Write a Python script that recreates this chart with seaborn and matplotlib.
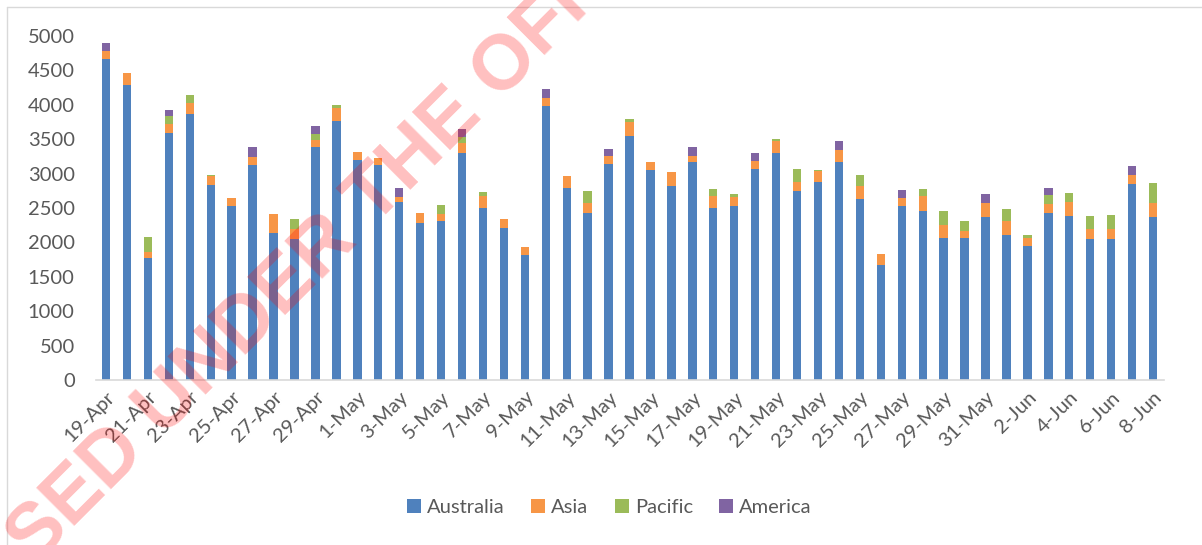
import matplotlib
matplotlib.use('Agg')
import matplotlib.pyplot as plt
from matplotlib.patches import Patch
from matplotlib.lines import Line2D
import pandas as pd
import seaborn as sns

# one label per day, 19-Apr .. 8-Jun
DATES = [d.strftime('%-d-%b') for d in pd.date_range('2020-04-19', '2020-06-08')]

AUSTRALIA = [4670, 4283, 1778, 3585, 3871, 2829, 2534, 3130, 2141, 2054,
             3382, 3760, 3198, 3120, 2582, 2277, 2316, 3304, 2505, 2214,
             1817, 3987, 2795, 2432, 3144, 3551, 3052, 2820, 3173, 2495,
             2529, 3071, 3304, 2742, 2883, 3173, 2635, 1666, 2529, 2461,
             2068, 2068, 2369, 2112, 1952, 2432, 2388, 2054, 2054, 2844, 2369]
ASIA = [117, 180, 87, 141, 155, 140, 106, 111, 267, 141,
        106, 189, 116, 107, 83, 145, 92, 136, 174, 121,
        121, 107, 175, 145, 112, 194, 117, 198, 88, 175,
        126, 112, 174, 141, 160, 170, 189, 160, 121, 213,
        185, 98, 204, 194, 116, 126, 199, 141, 136, 136, 199]
PACIFIC = [0, 0, 213, 106, 116, 10, 0, 0, 0, 140,
           92, 43, 0, 0, 0, 0, 136, 87, 48, 8,
           0, 0, 0, 170, 0, 44, 0, 0, 0, 106,
           53, 0, 25, 179, 8, 0, 156, 8, 0, 107,
           208, 140, 0, 179, 44, 131, 136, 189, 203, 0, 290]
AMERICA = [107, 0, 0, 97, 0, 0, 0, 146, 0, 0,
           112, 0, 0, 0, 130, 0, 0, 121, 0, 0,
           0, 130, 0, 0, 102, 0, 0, 0, 126, 0,
           0, 116, 0, 0, 0, 135, 0, 0, 112, 0,
           0, 0, 130, 0, 0, 102, 0, 0, 0, 130, 0]

REGIONS = ['Australia', 'Asia', 'Pacific', 'America']
COLORS = {
    'Australia': '#4F81BD',
    'Asia': '#F79646',
    'Pacific': '#9BBB59',
    'America': '#8064A2',
}
TEXT = '#595959'
FS = 14.5

df = pd.DataFrame({'date': DATES, 'Australia': AUSTRALIA, 'Asia': ASIA,
                   'Pacific': PACIFIC, 'America': AMERICA})
# cumulative heights so the layers can be drawn top-down
cum = df[REGIONS].cumsum(axis=1)
cum['date'] = df['date']

sns.set_style('white')
plt.rcParams['font.family'] = ['Lato', 'DejaVu Sans']

fig = plt.figure(figsize=(12.02, 5.45), dpi=100)
ax = fig.add_axes([0.0795, 0.3028, 0.8885, 0.6312])

for region in reversed(REGIONS):
    sns.barplot(data=cum, x='date', y=region, order=DATES, color=COLORS[region],
                saturation=1, width=0.4, errorbar=None, linewidth=0, ax=ax)

ax.set_ylim(0, 5000)
ax.set_xlim(-0.5, len(DATES) - 0.5)
ax.set_yticks(range(0, 5001, 500))
ax.set_xticks(range(0, len(DATES), 2))
ax.set_xticklabels(DATES[::2], rotation=45, ha='right', rotation_mode='anchor')
ax.set_xlabel('')
ax.set_ylabel('')
ax.tick_params(axis='y', length=0, pad=15, labelsize=FS, labelcolor=TEXT)
ax.tick_params(axis='x', length=0, pad=6, labelsize=FS, labelcolor=TEXT)
for side in ['top', 'right', 'left']:
    ax.spines[side].set_visible(False)
ax.spines['bottom'].set_color('#D9D9D9')
ax.spines['bottom'].set_linewidth(1.2)

handles = [Patch(facecolor=COLORS[r], edgecolor='none', label=r) for r in REGIONS]
fig.legend(handles=handles, loc='center', bbox_to_anchor=(0.507, 0.068), ncol=4,
           frameon=False, fontsize=FS, labelcolor=TEXT, handlelength=0.7,
           handleheight=0.7, handletextpad=0.3, columnspacing=1.3)

# chart border (left and top visible in the crop)
fig.add_artist(Line2D([7 / 1202, 7 / 1202], [0, 1 - 7 / 545], color='#D9D9D9',
                      lw=1, transform=fig.transFigure))
fig.add_artist(Line2D([7 / 1202, 1], [1 - 7 / 545, 1 - 7 / 545], color='#D9D9D9',
                      lw=1, transform=fig.transFigure))

# watermark
fig.text(-152 / 1202, 1 - 752 / 545, 'RELEASED UNDER THE OFFICIAL INFORMATION ACT',
         rotation=45, rotation_mode='anchor', ha='left', va='baseline',
         fontsize=56, fontweight='heavy', family=['Liberation Sans', 'DejaVu Sans'],
         color='red', alpha=0.25, zorder=10)

fig.savefig('out.png', dpi=100)
